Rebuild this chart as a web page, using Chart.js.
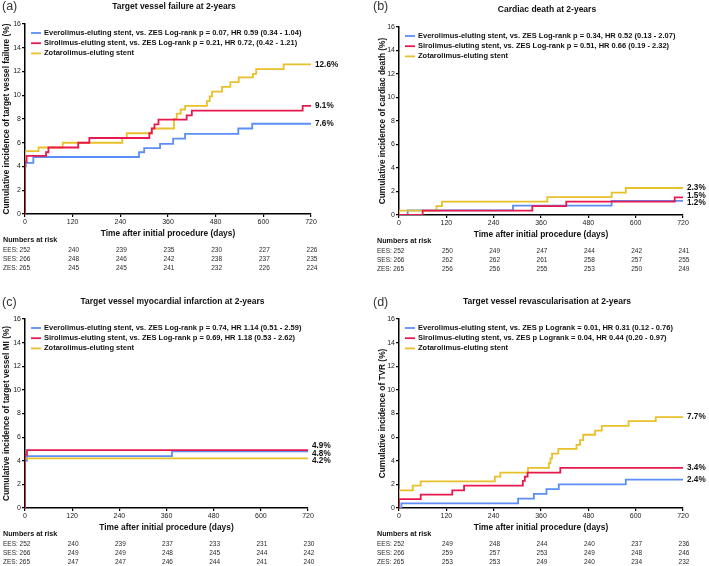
<!DOCTYPE html>
<html>
<head>
<meta charset="utf-8">
<script src="https://cdn.jsdelivr.net/npm/chart.js@4.4.1/dist/chart.umd.min.js"></script>
<style>
html, body { margin: 0; padding: 0; background: #fff; }
#wrap { position: relative; width: 709px; height: 566px; }
canvas { position: absolute; }
</style>
</head>
<body>
<div id="wrap">
  <canvas id="panelA" width="354" height="283" style="left:0;top:0"></canvas>
  <canvas id="panelB" width="355" height="283" style="left:354px;top:0"></canvas>
  <canvas id="panelC" width="354" height="283" style="left:0;top:283px"></canvas>
  <canvas id="panelD" width="355" height="283" style="left:354px;top:283px"></canvas>
</div>
<script>
// x ticks (days) and y ticks (%)
var dayTicks = [0, 120, 240, 360, 480, 600, 720];
var pctTicks = [0, 2, 4, 6, 8, 10, 12, 14, 16];
var groupNames = ['EES', 'SES', 'ZES'];

// (a) target vessel failure - [day, cumulative %]
var tvfEES = [[0,0],[0,4.0],[2,4.3],[21,4.8],[287,5.2],[300,5.55],[340,5.9],[373,6.35],[403,6.75],[537,7.2],[572,7.6],[720,7.6]];
var tvfSES = [[0,0],[0,4.4],[4,4.9],[53,5.2],[59,5.6],[134,6.0],[162,6.4],[313,6.8],[319,7.2],[326,7.55],[336,7.95],[407,8.3],[420,8.7],[699,9.1],[720,9.1]];
var tvfZES = [[0,0],[0,5.3],[34,5.6],[95,6.0],[245,6.4],[256,6.8],[320,7.2],[375,8.0],[382,8.45],[392,8.8],[403,9.1],[458,9.5],[465,9.9],[471,10.3],[496,10.7],[517,11.1],[538,11.5],[574,11.8],[582,12.2],[651,12.6],[720,12.6]];
var tvfRiskEES = [252, 240, 239, 235, 230, 227, 226];
var tvfRiskSES = [266, 248, 246, 242, 238, 237, 235];
var tvfRiskZES = [265, 245, 245, 241, 232, 226, 224];
var tvfLegend = [
  'Everolimus-eluting stent, vs. ZES Log-rank p = 0.07, HR 0.59 (0.34 - 1.04)',
  'Sirolimus-eluting stent, vs. ZES Log-rank p = 0.21, HR 0.72, (0.42 - 1.21)',
  'Zotarolimus-eluting stent'
];

// (b) cardiac death
var cdEES = [[0,0],[22,0.4],[289,0.8],[539,1.2],[720,1.2]];
var cdSES = [[0,0],[60,0.38],[338,0.76],[424,1.14],[699,1.5],[720,1.5]];
var cdZES = [[0,0],[0,0.38],[95,0.76],[109,1.14],[376,1.52],[539,1.9],[575,2.3],[720,2.3]];
var cdRiskEES = [252, 250, 249, 247, 244, 242, 241];
var cdRiskSES = [266, 262, 262, 261, 258, 257, 255];
var cdRiskZES = [265, 256, 256, 255, 253, 250, 249];
var cdLegend = [
  'Everolimus-eluting stent, vs. ZES Log-rank p = 0.34, HR 0.52 (0.13 - 2.07)',
  'Sirolimus-eluting stent, vs. ZES Log-rank p = 0.51, HR 0.66 (0.19 - 2.32)',
  'Zotarolimus-eluting stent'
];

// (c) target vessel MI
var miEES = [[0,0],[0,4.0],[5,4.4],[374,4.8],[720,4.8]];
var miSES = [[0,0],[0,4.5],[5,4.9],[720,4.9]];
var miZES = [[0,0],[0,4.2],[720,4.2]];
var miRiskEES = [252, 240, 239, 237, 233, 231, 230];
var miRiskSES = [266, 249, 249, 248, 245, 244, 242];
var miRiskZES = [265, 247, 247, 246, 244, 241, 240];
var miLegend = [
  'Everolimus-eluting stent, vs. ZES Log-rank p = 0.74, HR 1.14 (0.51 - 2.59)',
  'Sirolimus-eluting stent, vs. ZES Log-rank p = 0.69, HR 1.18 (0.53 - 2.62)',
  'Zotarolimus-eluting stent'
];

// (d) target vessel revascularisation
var tvrEES = [[0,0],[6,0.4],[302,0.8],[342,1.2],[374,1.6],[405,2.0],[575,2.4],[720,2.4]];
var tvrSES = [[0,0],[0,0.75],[55,1.13],[135,1.5],[165,1.9],[314,2.3],[319,2.65],[326,3.0],[409,3.4],[720,3.4]];
var tvrZES = [[0,0],[0,1.5],[35,1.9],[55,2.25],[243,2.65],[257,3.0],[327,3.4],[380,3.8],[384,4.2],[388,4.6],[404,5.0],[450,5.35],[459,5.75],[467,6.2],[497,6.55],[514,6.95],[582,7.35],[651,7.7],[720,7.7]];
var tvrRiskEES = [252, 249, 248, 244, 240, 237, 236];
var tvrRiskSES = [266, 259, 257, 253, 249, 248, 246];
var tvrRiskZES = [265, 253, 253, 249, 240, 234, 232];
var tvrLegend = [
  'Everolimus-eluting stent, vs. ZES p Logrank = 0.01, HR 0.31 (0.12 - 0.76)',
  'Sirolimus-eluting stent, vs. ZES p Logrank = 0.04, HR 0.44 (0.20 - 0.97)',
  'Zotarolimus-eluting stent'
];

var FONT = "'Liberation Sans', Arial, Helvetica, sans-serif";
var colEES = '#5b8ef7';
var colSES = '#e8194f';
var colZES = '#e8c02a';
Chart.defaults.font.family = FONT;

// extra drawing: letter, title, legend, end labels, numbers at risk
var kmExtras = {
  id: 'kmExtras',
  afterDraw: function(chart, args, opts) {
    var ctx = chart.ctx, area = chart.chartArea;
    var xs = chart.scales.x, ys = chart.scales.y;
    ctx.save();
    ctx.textBaseline = 'middle';

    // panel letter
    ctx.fillStyle = '#333';
    ctx.font = '12.5px ' + FONT;
    ctx.textAlign = 'left';
    ctx.fillText(opts.letter, opts.letterX, opts.letterY);

    // title
    ctx.fillStyle = '#111';
    ctx.font = 'bold 8.5px ' + FONT;
    ctx.textAlign = 'center';
    ctx.fillText(opts.title, (area.left + area.right) / 2 + 6, area.top - 17.5);

    // legend
    ctx.font = 'bold 7.5px ' + FONT;
    ctx.textAlign = 'left';
    chart.data.datasets.forEach(function(ds, i) {
      var y = area.top + 9 + i * 10.2;
      ctx.strokeStyle = ds.borderColor;
      ctx.lineWidth = 1.8;
      ctx.beginPath();
      ctx.moveTo(area.left + 6, y);
      ctx.lineTo(area.left + 16, y);
      ctx.stroke();
      ctx.fillStyle = '#111';
      ctx.fillText(ds.label, area.left + 19, y);
    });

    // end labels, pushed apart when they overlap
    var ends = chart.data.datasets.map(function(ds) {
      var last = ds.data[ds.data.length - 1];
      return { v: last.y, y: ys.getPixelForValue(last.y) };
    });
    ends.sort(function(a, b) { return a.y - b.y; });
    for (var k = 0; k < 30; k++) {
      for (var j = 1; j < ends.length; j++) {
        var gap = ends[j].y - ends[j - 1].y;
        if (gap < 7.5) {
          var d = (7.5 - gap) / 2;
          ends[j - 1].y -= d;
          ends[j].y += d;
        }
      }
    }
    ctx.font = 'bold 8.2px ' + FONT;
    ctx.fillStyle = '#111';
    ends.forEach(function(e) {
      ctx.fillText(e.v.toFixed(1) + '%', area.right + 4, e.y);
    });

    // numbers at risk
    var x0 = area.left - 22;
    ctx.font = 'bold 7.2px ' + FONT;
    ctx.fillText('Numbers at risk', x0, area.bottom + 26.5);
    ctx.font = '6.5px ' + FONT;
    ctx.fillStyle = '#2a2a2a';
    opts.risk.forEach(function(row, r) {
      var y = area.bottom + 36.5 + r * 8.8;
      ctx.textAlign = 'left';
      ctx.fillText(groupNames[r] + ': ' + row[0], x0, y);
      ctx.textAlign = 'center';
      for (var c = 1; c < row.length; c++) {
        ctx.fillText(String(row[c]), xs.getPixelForValue(dayTicks[c]) + 1, y);
      }
    });
    ctx.restore();
  }
};

function toXY(arr) {
  return arr.map(function(p) { return { x: p[0], y: p[1] }; });
}

function makePanel(id, p) {
  var ctx = document.getElementById(id).getContext('2d');
  return new Chart(ctx, {
    type: 'line',
    data: {
      datasets: [
        { label: p.legend[0], data: toXY(p.ees), borderColor: colEES, order: 2 },
        { label: p.legend[1], data: toXY(p.ses), borderColor: colSES, order: 0 },
        { label: p.legend[2], data: toXY(p.zes), borderColor: colZES, order: 1 }
      ]
    },
    options: {
      responsive: false,
      animation: false,
      devicePixelRatio: 1,
      layout: { padding: p.pad },
      elements: {
        point: { radius: 0 },
        line: { borderWidth: 1.8, stepped: 'before', fill: false, tension: 0 }
      },
      plugins: {
        legend: { display: false },
        tooltip: { enabled: false },
        kmExtras: {
          letter: p.letter, letterX: p.letterX, letterY: p.letterY,
          title: p.title, risk: p.risk
        }
      },
      scales: {
        x: {
          type: 'linear',
          min: 0,
          max: 720,
          afterBuildTicks: function(scale) {
            scale.ticks = dayTicks.map(function(v) { return { value: v }; });
          },
          ticks: { font: { size: 7 }, color: '#222', padding: 1, maxRotation: 0, autoSkip: false },
          grid: { drawOnChartArea: false, drawTicks: true, tickLength: 3, color: '#000', lineWidth: 1.2 },
          border: { color: '#000', width: 1.5 },
          title: {
            display: true,
            text: 'Time after initial procedure (days)',
            color: '#111',
            font: { size: 8.4, weight: 'bold' },
            padding: { top: 0, bottom: 1 }
          },
          afterFit: function(scale) { scale.height = 26; }
        },
        y: {
          type: 'linear',
          min: 0,
          max: 16,
          afterBuildTicks: function(scale) {
            scale.ticks = pctTicks.map(function(v) { return { value: v }; });
          },
          ticks: { font: { size: 7 }, color: '#222', padding: 1 },
          grid: { drawOnChartArea: false, drawTicks: true, tickLength: 3, color: '#000', lineWidth: 1.2 },
          border: { color: '#000', width: 1.5 },
          title: {
            display: true,
            text: p.yTitle,
            color: '#111',
            font: { size: 8.3, weight: 'bold' },
            padding: { top: 1.5, bottom: 0 }
          },
          afterFit: function(scale) { scale.width = p.yWidth; }
        }
      }
    },
    plugins: [kmExtras]
  });
}

makePanel('panelA', {
  ees: tvfEES, ses: tvfSES, zes: tvfZES, legend: tvfLegend,
  risk: [tvfRiskEES, tvfRiskSES, tvfRiskZES],
  title: 'Target vessel failure at 2-years',
  yTitle: 'Cumulative incidence of target vessel failure (%)',
  letter: '(a)', letterX: 2, letterY: 7,
  pad: { left: 0, right: 43, top: 24, bottom: 43 }, yWidth: 25
});
makePanel('panelB', {
  ees: cdEES, ses: cdSES, zes: cdZES, legend: cdLegend,
  risk: [cdRiskEES, cdRiskSES, cdRiskZES],
  title: 'Cardiac death at 2-years',
  yTitle: 'Cumulative incidence of cardiac death (%)',
  letter: '(b)', letterX: 19, letterY: 7,
  pad: { left: 22, right: 26, top: 27, bottom: 42 }, yWidth: 23
});
makePanel('panelC', {
  ees: miEES, ses: miSES, zes: miZES, legend: miLegend,
  risk: [miRiskEES, miRiskSES, miRiskZES],
  title: 'Target vessel myocardial infarction at 2-years',
  yTitle: 'Cumulative incidence of target vessel MI (%)',
  letter: '(c)', letterX: 2, letterY: 20,
  pad: { left: 0, right: 46, top: 36, bottom: 32 }, yWidth: 25
});
makePanel('panelD', {
  ees: tvrEES, ses: tvrSES, zes: tvrZES, legend: tvrLegend,
  risk: [tvrRiskEES, tvrRiskSES, tvrRiskZES],
  title: 'Target vessel revascularisation at 2-years',
  yTitle: 'Cumulative incidence of TVR (%)',
  letter: '(d)', letterX: 19, letterY: 20,
  pad: { left: 22, right: 26, top: 36, bottom: 32 }, yWidth: 23
});
</script>
</body>
</html>
